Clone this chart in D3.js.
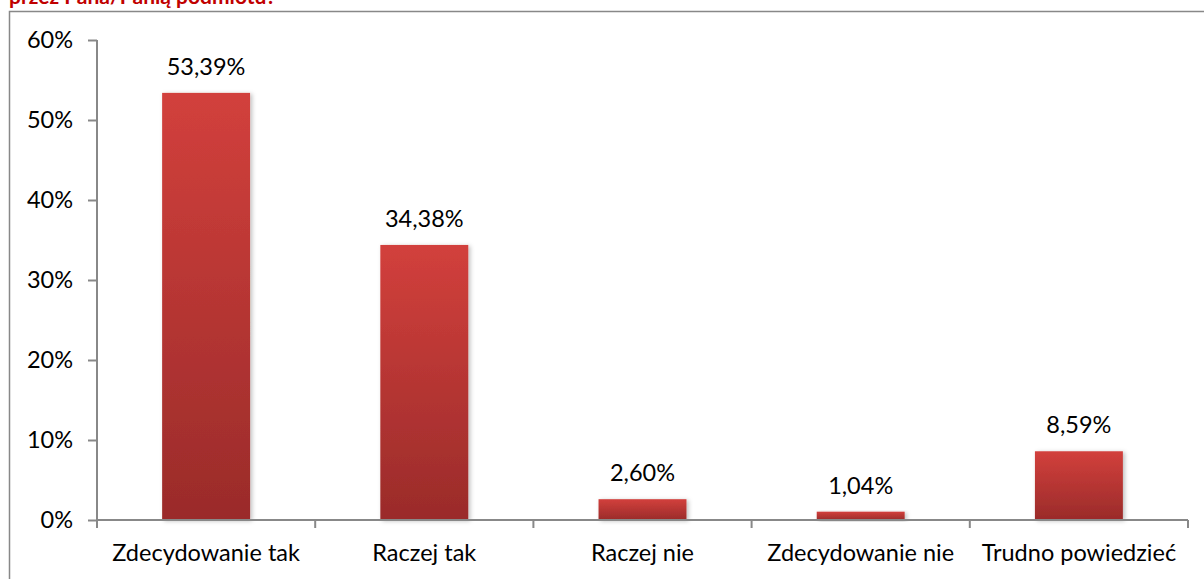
<!DOCTYPE html>
<html>
<head>
<meta charset="utf-8">
<script src="https://cdn.jsdelivr.net/npm/d3@7"></script>
<style>
  body { margin: 0; background: #fff; }
  svg { display: block; }
</style>
</head>
<body>
<div id="chart"></div>
<script>
const categories = ['Zdecydowanie tak', 'Raczej tak', 'Raczej nie', 'Zdecydowanie nie', 'Trudno powiedzieć'];
const values = [53.39, 34.38, 2.60, 1.04, 8.59];
const yTicks = [0, 10, 20, 30, 40, 50, 60];
const titleText = 'przez Pana/Panią podmiotu?';

const width = 1204, height = 579;
const svg = d3.select('#chart').append('svg').attr('width', width).attr('height', height);
const font = 'Lato, "Open Sans", sans-serif';
const fs = 23.5;

const defs = svg.append('defs');
const grad = defs.append('linearGradient').attr('id', 'barGrad').attr('x1', 0).attr('y1', 0).attr('x2', 0).attr('y2', 1);
grad.append('stop').attr('offset', '0%').attr('stop-color', '#d2403c');
grad.append('stop').attr('offset', '100%').attr('stop-color', '#9a2b2a');
const shadow = defs.append('filter').attr('id', 'shadow').attr('x', '-20%').attr('y', '-20%').attr('width', '140%').attr('height', '140%');
shadow.append('feDropShadow').attr('dx', 2).attr('dy', 1).attr('stdDeviation', 2).attr('flood-color', '#000').attr('flood-opacity', 0.25);

// title (cut off at the top, as in the original)
svg.append('text').attr('x', 9).attr('y', 4)
  .attr('font-family', font).attr('font-weight', 'bold')
  .attr('font-size', 21).attr('fill', '#c00000').text(titleText);

// outer frame
svg.append('rect').attr('x', 9.5).attr('y', 11.5).attr('width', 1200).attr('height', 600)
  .attr('fill', 'none').attr('stroke', '#888').attr('stroke-width', 1.5);

const x = d3.scaleBand().domain(categories).range([97, 1188]).paddingInner(0.597).paddingOuter(0.2985);
const y = d3.scaleLinear().domain([0, 60]).range([520, 40]);

// bars
svg.append('g').selectAll('rect').data(values).join('rect')
  .attr('x', (d, i) => x(categories[i]))
  .attr('width', x.bandwidth())
  .attr('y', d => y(d))
  .attr('height', d => y(0) - y(d))
  .attr('fill', 'url(#barGrad)')
  .attr('filter', 'url(#shadow)');

// y axis
const yAxis = svg.append('g').attr('transform', 'translate(97,0)')
  .call(d3.axisLeft(y).tickValues(yTicks).tickSize(9).tickPadding(15).tickFormat(d => d + '%'));
yAxis.selectAll('text').attr('font-family', font).attr('font-size', fs).attr('fill', '#000');
yAxis.select('.domain').attr('d', 'M0,40V528');

// x axis
const xAxis = svg.append('g').attr('transform', 'translate(0,520)');
xAxis.append('line').attr('class', 'base').attr('x1', 97).attr('x2', 1188).attr('y1', 0).attr('y2', 0);
const boundaries = d3.range(1, categories.length + 1).map(i => 97 + i * x.step());
xAxis.selectAll('line.tk').data(boundaries).join('line').attr('class', 'tk')
  .attr('x1', d => d).attr('x2', d => d).attr('y1', 0).attr('y2', 8);
xAxis.selectAll('text').data(categories).join('text')
  .attr('x', d => x(d) + x.bandwidth() / 2).attr('y', 41)
  .attr('text-anchor', 'middle').attr('font-family', font).attr('font-size', fs).attr('fill', '#000')
  .text(d => d);

svg.selectAll('.domain, .tick line, line.tk, line.base').attr('stroke', '#888').attr('stroke-width', 2);

// value labels
svg.append('g').selectAll('text').data(values).join('text')
  .attr('x', (d, i) => x(categories[i]) + x.bandwidth() / 2)
  .attr('y', d => y(d) - 18)
  .attr('text-anchor', 'middle').attr('font-family', font).attr('font-size', fs).attr('fill', '#000')
  .text(d => d.toFixed(2).replace('.', ',') + '%');
</script>
</body>
</html>
